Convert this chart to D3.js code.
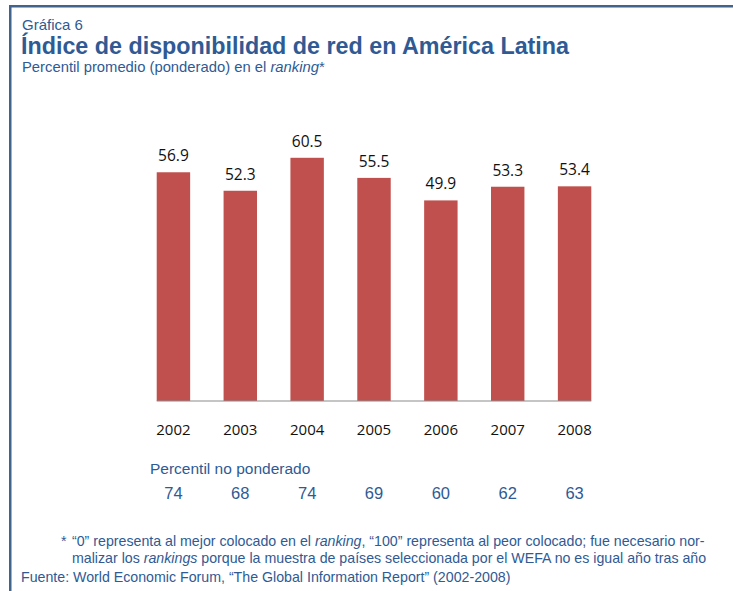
<!DOCTYPE html>
<html>
<head>
<meta charset="utf-8">
<script src="https://cdn.jsdelivr.net/npm/d3@7"></script>
<style>
  body { margin: 0; background: #fff; }
  svg { display: block; }
</style>
</head>
<body>
<div id="chart"></div>
<script>
// data
var years = ["2002", "2003", "2004", "2005", "2006", "2007", "2008"];
var weighted = [56.9, 52.3, 60.5, 55.5, 49.9, 53.3, 53.4];
var unweighted = [74, 68, 74, 69, 60, 62, 63];

var blue = "#2f5a94";
var frameBlue = "#41648f";
var sans = "Liberation Sans, Arial, sans-serif";

var width = 733, height = 591;

var svg = d3.select("#chart").append("svg")
    .attr("width", width)
    .attr("height", height);

// frame (top + left rule)
svg.append("rect").attr("x", 9).attr("y", 5).attr("width", width - 9).attr("height", 2.5).attr("fill", frameBlue);
svg.append("rect").attr("x", 9).attr("y", 5).attr("width", 2.5).attr("height", height - 5).attr("fill", frameBlue);

// titles
svg.append("text").attr("x", 22).attr("y", 30)
    .style("font-family", sans).style("font-size", "15px")
    .attr("fill", blue).text("Gráfica 6");
svg.append("text").attr("x", 21).attr("y", 54)
    .style("font-family", sans).style("font-size", "23.3px")
    .style("font-weight", "bold").attr("fill", blue)
    .text("Índice de disponibilidad de red en América Latina");
var sub = svg.append("text").attr("x", 22).attr("y", 72)
    .style("font-family", sans).style("font-size", "14.8px")
    .attr("fill", blue);
sub.append("tspan").text("Percentil promedio (ponderado) en el ");
sub.append("tspan").style("font-style", "italic").text("ranking");
sub.append("tspan").text("*");

// scales
var x = d3.scaleBand().domain(years).range([140, 608]).paddingInner(0.5).paddingOuter(0.25);
var y = d3.scaleLinear().domain([0, 70]).range([401, 119.6]);

var g = svg.append("g");

g.selectAll(".bar").data(weighted).enter().append("rect")
    .attr("class", "bar")
    .attr("x", function(d, i) { return x(years[i]); })
    .attr("y", function(d) { return y(d); })
    .attr("width", x.bandwidth())
    .attr("height", function(d) { return y(0) - y(d); })
    .attr("fill", "#c0504d");

// baseline
g.append("line")
    .attr("x1", x(years[0])).attr("x2", x(years[years.length - 1]) + x.bandwidth())
    .attr("y1", y(0)).attr("y2", y(0))
    .attr("stroke", "#8c8c8c").attr("stroke-width", 1.2);

// value labels
g.selectAll(".val").data(weighted).enter().append("text")
    .attr("class", "val")
    .attr("x", function(d, i) { return x(years[i]) + x.bandwidth() / 2; })
    .attr("y", function(d) { return y(d) - 11; })
    .attr("text-anchor", "middle")
    .style("font-family", "Open Sans, sans-serif").style("font-size", "15.5px")
    .attr("fill", "#111")
    .text(function(d) { return d.toFixed(1); });

// year axis
var axis = g.append("g").attr("transform", "translate(0," + y(0) + ")")
    .call(d3.axisBottom(x).tickSize(0).tickPadding(23));
axis.select(".domain").remove();
axis.selectAll("text")
    .style("font-family", "Open Sans, sans-serif").style("font-size", "15px")
    .attr("fill", "#111");

// unweighted percentile row
svg.append("text").attr("x", 150).attr("y", 474)
    .style("font-family", sans).style("font-size", "15.5px")
    .attr("fill", blue).text("Percentil no ponderado");

g.selectAll(".unw").data(unweighted).enter().append("text")
    .attr("class", "unw")
    .attr("x", function(d, i) { return x(years[i]) + x.bandwidth() / 2; })
    .attr("y", 499)
    .attr("text-anchor", "middle")
    .style("font-family", sans).style("font-size", "16.5px")
    .attr("fill", blue)
    .text(function(d) { return d; });

// footnotes
function note(xp, yp) {
    return svg.append("text").attr("x", xp).attr("y", yp)
        .style("font-family", sans).style("font-size", "14.2px")
        .attr("fill", blue);
}
note(61, 546).text("*");
var n1 = note(72, 546);
n1.append("tspan").text("“0” representa al mejor colocado en el ");
n1.append("tspan").style("font-style", "italic").text("ranking");
n1.append("tspan").text(", “100” representa al peor colocado; fue necesario nor-");
var n2 = note(72, 563);
n2.append("tspan").text("malizar los ");
n2.append("tspan").style("font-style", "italic").text("rankings");
n2.append("tspan").text(" porque la muestra de países seleccionada por el WEFA no es igual año tras año");
note(21, 582).text("Fuente: World Economic Forum, “The Global Information Report” (2002-2008)");
</script>
</body>
</html>
